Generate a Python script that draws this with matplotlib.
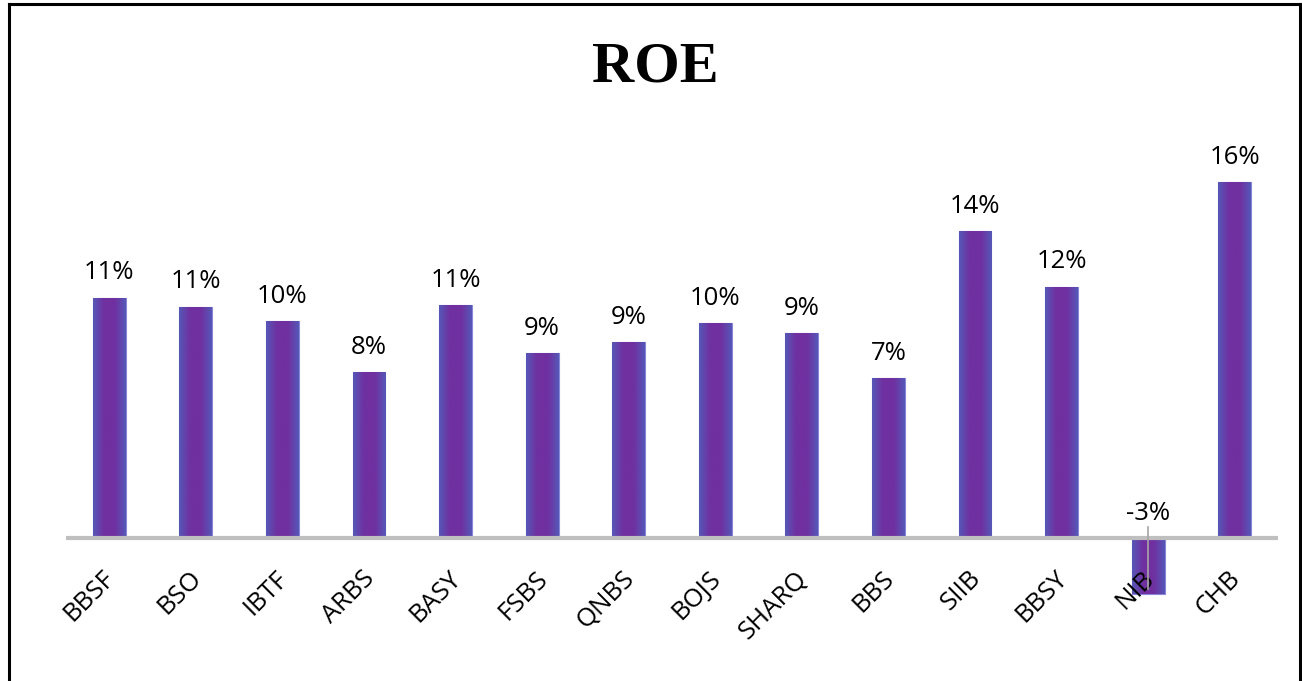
import matplotlib
matplotlib.use("Agg")
import matplotlib.pyplot as plt
import numpy as np
from matplotlib.colors import LinearSegmentedColormap
from matplotlib.lines import Line2D

categories = ["BBSF", "BSO", "IBTF", "ARBS", "BASY", "FSBS", "QNBS", "BOJS",
              "SHARQ", "BBS", "SIIB", "BBSY", "NIB", "CHB"]
roe = [10.8, 10.4, 9.75, 7.46, 10.45, 8.3, 8.8, 9.66, 9.2, 7.2, 13.8, 11.3, -2.5, 16.0]
value_labels = ["11%", "11%", "10%", "8%", "11%", "9%", "9%", "10%", "9%", "7%",
                "14%", "12%", "-3%", "16%"]
title = "ROE"

W, H = 1302, 681
fig = plt.figure(figsize=(W / 100, H / 100), dpi=100)
fig.patch.set_facecolor("white")

ax = fig.add_axes([66 / W, 54 / H, 1212 / W, 478.4 / H])
ax.axis("off")

x = np.arange(len(categories))
bw = 0.38
bars = ax.bar(x, roe, width=bw, color="#7030A0", edgecolor="#8A86D8", linewidth=0.8, zorder=2)

# horizontal gradient inside bars: bluish edges, purple centre
cmap = LinearSegmentedColormap.from_list("g", ["#5558B8", "#7030A0", "#7030A0", "#5558B8"])
grad = np.linspace(0, 1, 256).reshape(1, -1)
for b in bars:
    x0 = b.get_x()
    y0 = b.get_y()
    h = b.get_height()
    im = ax.imshow(grad, cmap=cmap, aspect="auto",
                   extent=[x0, x0 + b.get_width(), min(y0, y0 + h), max(y0, y0 + h)],
                   zorder=2.5)
    im.set_clip_path(b)

ax.set_xlim(-0.5, len(categories) - 0.5)
ax.set_ylim(-4, 17.5)

# baseline
ax.axhline(0, color="#BFBFBF", linewidth=3, zorder=3)

# value labels
for xi, v, lab in zip(x, roe, value_labels):
    if v >= 0:
        ax.text(xi, v + 0.55, lab, ha="center", va="bottom", fontsize=18.5,
                family="Open Sans", color="black", zorder=5)
    else:
        ax.text(xi, 0.55, lab, ha="center", va="bottom", fontsize=18.5,
                family="Open Sans", color="black", zorder=5)
        ax.plot([xi, xi], [0.5, -2.3], color="#A6A6A6", linewidth=1.2, zorder=4)

# category labels
for xi, c in zip(x, categories):
    ax.text(xi - 0.08, -1.25, c, ha="right", va="top", rotation=45,
            rotation_mode="anchor", fontsize=18.5, family="Open Sans", color="black")

fig.text(655 / W, 1 - 67 / H, title, ha="center", va="center", fontsize=42,
         fontweight="bold", family="Liberation Serif", color="black")

# frame
fig.add_artist(Line2D([9 / W, 9 / W], [0, 1 - 4 / H], color="black", linewidth=2.2, transform=fig.transFigure))
fig.add_artist(Line2D([9 / W, 1300 / W], [1 - 4 / H, 1 - 4 / H], color="black", linewidth=2.2, transform=fig.transFigure))
fig.add_artist(Line2D([1300 / W, 1300 / W], [0, 1 - 4 / H], color="black", linewidth=2.2, transform=fig.transFigure))

fig.savefig("out.png", dpi=100, facecolor="white")
